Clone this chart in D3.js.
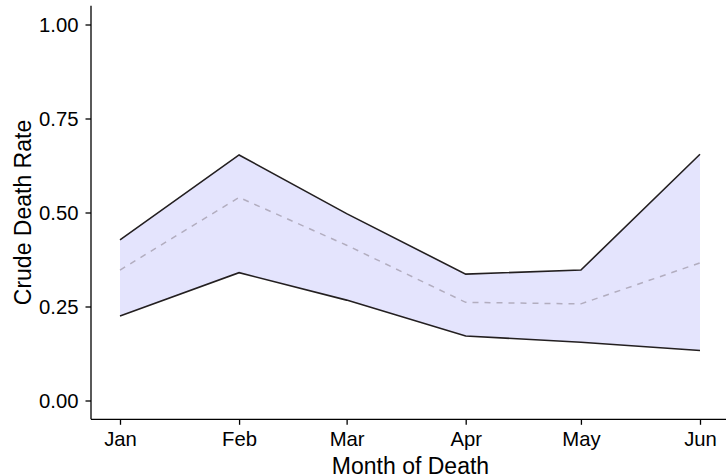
<!DOCTYPE html>
<html>
<head>
<meta charset="utf-8">
<script src="https://cdn.jsdelivr.net/npm/d3@7"></script>
<style>
  body { margin: 0; background: #fff; }
  text { font-family: "Liberation Sans", Arial, Helvetica, sans-serif; fill: #000; }
</style>
</head>
<body>
<script>
// month of death (first of each month)
var months = ["2019-01-01", "2019-02-01", "2019-03-01", "2019-04-01", "2019-05-01", "2019-06-01"];
var monthLabels = ["Jan", "Feb", "Mar", "Apr", "May", "Jun"];
var upper = [0.427, 0.653, 0.497, 0.336, 0.347, 0.655];
var middle = [0.347, 0.540, 0.413, 0.261, 0.257, 0.366];
var lower = [0.225, 0.340, 0.267, 0.1715, 0.155, 0.133];
var yTicks = [0, 0.25, 0.5, 0.75, 1];

var W = 726, H = 476;
var pLeft = 91, pTop = 5.7, pRight = 729, pBottom = 419.3;

var parse = d3.timeParse("%Y-%m-%d");
var data = months.map(function(m, i) {
  return { date: parse(m), hi: upper[i], mid: middle[i], lo: lower[i] };
});

var svg = d3.select("body").append("svg")
    .attr("width", W)
    .attr("height", H);

// ggplot-style 5% expansion on both axes
var ext = d3.extent(data, function(d) { return d.date; });
var span = ext[1] - ext[0];
var x = d3.scaleTime()
    .domain([new Date(+ext[0] - span * 0.05), new Date(+ext[1] + span * 0.05)])
    .range([pLeft, pRight]);
var y = d3.scaleLinear().domain([-0.05, 1.05]).range([pBottom, pTop]);

// ribbon
svg.append("path")
    .datum(data)
    .attr("fill", "#e4e4fd")
    .attr("d", d3.area()
      .x(function(d) { return x(d.date); })
      .y0(function(d) { return y(d.lo); })
      .y1(function(d) { return y(d.hi); }));

var line = function(key) {
  return d3.line()
    .x(function(d) { return x(d.date); })
    .y(function(d) { return y(d[key]); });
};

svg.append("path").datum(data)
    .attr("fill", "none").attr("stroke", "#b2adbf")
    .attr("stroke-width", 1.5).attr("stroke-dasharray", "6,6")
    .attr("d", line("mid"));

["hi", "lo"].forEach(function(k) {
  svg.append("path").datum(data)
      .attr("fill", "none").attr("stroke", "#231f20")
      .attr("stroke-width", 1.6)
      .attr("d", line(k));
});

// axes
var xAxis = d3.axisBottom(x)
    .tickValues(data.map(function(d) { return d.date; }))
    .tickFormat(function(d, i) { return monthLabels[i]; })
    .tickSize(5.5).tickPadding(6.5).tickSizeOuter(0);
var yAxis = d3.axisLeft(y)
    .tickValues(yTicks)
    .tickFormat(d3.format(".2f"))
    .tickSize(5.5).tickPadding(7).tickSizeOuter(0);

var gx = svg.append("g")
    .attr("transform", "translate(0," + pBottom + ")")
    .call(xAxis);
var gy = svg.append("g")
    .attr("transform", "translate(" + pLeft + ",0)")
    .call(yAxis);

[gx, gy].forEach(function(g) {
  g.select(".domain").attr("stroke", "#000").attr("stroke-width", 1.3);
  g.selectAll(".tick line").attr("stroke", "#000").attr("stroke-width", 1.3);
  g.selectAll(".tick text").style("font-size", "20.3px").attr("fill", "#000");
});
gy.select(".domain").attr("d", "M0," + pTop + "V" + pBottom);
gx.select(".domain").attr("d", "M" + pLeft + ",0H" + pRight);

svg.append("text")
    .attr("x", 410.5)
    .attr("y", 474)
    .attr("text-anchor", "middle")
    .style("font-size", "23px")
    .text("Month of Death");

svg.append("text")
    .attr("transform", "translate(31," + ((pTop + pBottom) / 2) + ") rotate(-90)")
    .attr("text-anchor", "middle")
    .style("font-size", "23px")
    .text("Crude Death Rate");
</script>
</body>
</html>
